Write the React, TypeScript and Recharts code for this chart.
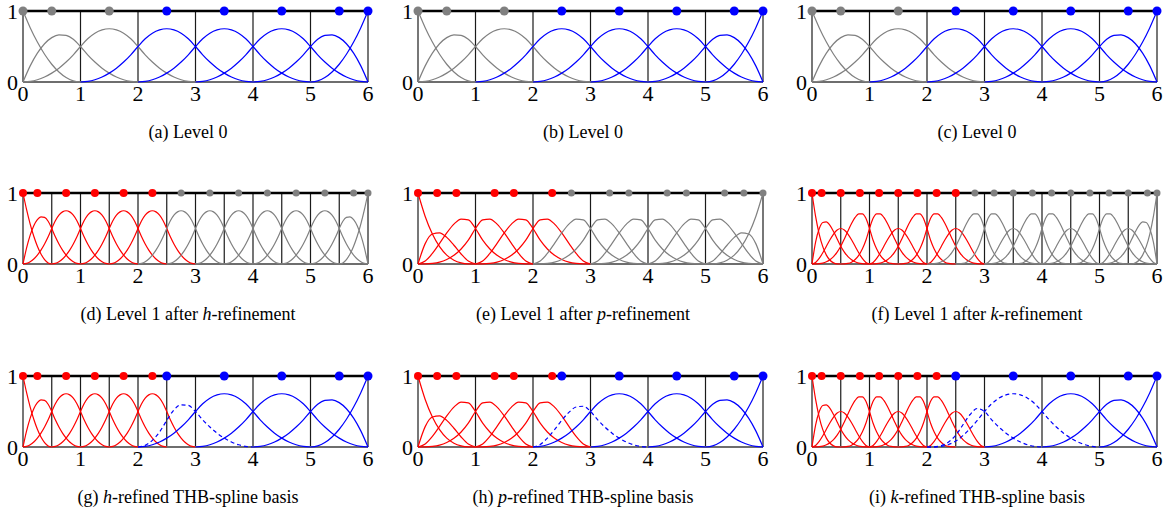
import React from "react";
import { ComposedChart, Line, Scatter, XAxis, YAxis, ReferenceLine } from "recharts";

// basis function shapes, sampled every 0.125 of a knot span
const QUAD_END = [1, 0.7656, 0.5625, 0.3906, 0.25, 0.1406, 0.0625, 0.0156, 0];
const QUAD_SIDE = [0, 0.227, 0.406, 0.539, 0.625, 0.664, 0.656, 0.602, 0.5, 0.383, 0.281, 0.195, 0.125, 0.07, 0.031, 0.008, 0];
const QUAD_MID = [0, 0.008, 0.031, 0.07, 0.125, 0.195, 0.281, 0.383, 0.5, 0.609, 0.688, 0.734, 0.75, 0.734, 0.688, 0.609, 0.5, 0.383, 0.281, 0.195, 0.125, 0.07, 0.031, 0.008, 0];
const CUB_END = [1, 0.67, 0.422, 0.244, 0.125, 0.053, 0.016, 0.002, 0];
const CUB_SIDE = [0, 0.287, 0.422, 0.439, 0.375, 0.264, 0.141, 0.041, 0];
const CUB_DOUBLE = [0, 0.042, 0.148, 0.29, 0.438, 0.562, 0.633, 0.622, 0.5, 0.335, 0.211, 0.122, 0.063, 0.026, 0.008, 0.001, 0];
const K_SIDE = [0, 0.308, 0.496, 0.585, 0.594, 0.544, 0.457, 0.352, 0.25, 0.168, 0.105, 0.061, 0.031, 0.013, 0.004, 0.0005, 0];
const K_MID = [0, 0.021, 0.078, 0.158, 0.25, 0.342, 0.422, 0.479, 0.5, 0.479, 0.422, 0.342, 0.25, 0.158, 0.078, 0.021, 0];
const K_SKEW = [0, 0.001, 0.008, 0.026, 0.063, 0.122, 0.211, 0.335, 0.5, 0.643, 0.707, 0.706, 0.656, 0.571, 0.465, 0.353, 0.25, 0.168, 0.105, 0.061, 0.031, 0.013, 0.004, 0.0005, 0];
// truncated coarse functions (dashed)
const TRUNC_H = [0, 0.023, 0.094, 0.211, 0.375, 0.523, 0.594, 0.586, 0.5, 0.383, 0.281, 0.195, 0.125, 0.07, 0.031, 0.008, 0];
const TRUNC_P = [0, 0.035, 0.125, 0.246, 0.375, 0.488, 0.563, 0.574, 0.5, 0.383, 0.281, 0.195, 0.125, 0.07, 0.031, 0.008, 0];
const TRUNC_K3 = [0, 0.003, 0.021, 0.07, 0.167, 0.313, 0.458, 0.542, 0.5, 0.383, 0.281, 0.195, 0.125, 0.07, 0.031, 0.008, 0];
const TRUNC_K4 = [0, 0.001, 0.01, 0.035, 0.083, 0.16, 0.26, 0.376, 0.5, 0.609, 0.688, 0.734, 0.75, 0.734, 0.688, 0.609, 0.5, 0.383, 0.281, 0.195, 0.125, 0.07, 0.031, 0.008, 0];

const PROFILES: Record<string, number[]> = {
  QE: QUAD_END, QS: QUAD_SIDE, QM: QUAD_MID,
  CE: CUB_END, CS: CUB_SIDE, CD: CUB_DOUBLE,
  KS: K_SIDE, KM: K_MID, KA: K_SKEW,
  TH: TRUNC_H, TP: TRUNC_P, TK3: TRUNC_K3, TK4: TRUNC_K4,
};

// [shape, left end, mirrored]
type Piece = [string, number, number];

const L0_PASSIVE: Piece[] = [["QE", 0, 0], ["QS", 0, 0], ["QM", 0, 0]];
const L0_ACTIVE: Piece[] = [["QM", 1, 0], ["QM", 2, 0], ["QM", 3, 0], ["QS", 4, 1], ["QE", 5, 1]];
const L0_KEPT: Piece[] = [["QM", 2, 0], ["QM", 3, 0], ["QS", 4, 1], ["QE", 5, 1]];
const L0_KEPT_K: Piece[] = [["QM", 3, 0], ["QS", 4, 1], ["QE", 5, 1]];
const H_ACTIVE: Piece[] = [["QE", 0, 0], ["QS", 0, 0], ["QM", 0, 0], ["QM", 0.5, 0], ["QM", 1, 0], ["QM", 1.5, 0]];
const H_PASSIVE: Piece[] = [["QM", 2, 0], ["QM", 2.5, 0], ["QM", 3, 0], ["QM", 3.5, 0], ["QM", 4, 0], ["QM", 4.5, 0], ["QS", 5, 1], ["QE", 5.5, 1]];
const P_ACTIVE: Piece[] = [["CE", 0, 0], ["CS", 0, 0], ["CD", 0, 0], ["CD", 0, 1], ["CD", 1, 0], ["CD", 1, 1]];
const P_PASSIVE: Piece[] = [["CD", 2, 0], ["CD", 2, 1], ["CD", 3, 0], ["CD", 3, 1], ["CD", 4, 0], ["CD", 4, 1], ["CS", 5, 1], ["CE", 5, 1]];
const K_ACTIVE: Piece[] = [["CE", 0, 0], ["KS", 0, 0], ["KM", 0, 0], ["KA", 0, 1], ["KA", 0.5, 0], ["KM", 1, 0], ["KA", 1, 1], ["KA", 1.5, 0], ["KM", 2, 0]];
const K_PASSIVE: Piece[] = [["KA", 2, 1], ["KA", 2.5, 0], ["KM", 3, 0], ["KA", 3, 1], ["KA", 3.5, 0], ["KM", 4, 0], ["KA", 4, 1], ["KA", 4.5, 0], ["KM", 5, 0], ["KS", 5, 1], ["CE", 5.5, 1]];
const H_TRUNC: Piece[] = [["TH", 2, 0]];
const P_TRUNC: Piece[] = [["TP", 2, 0]];
const K_TRUNC: Piece[] = [["TK3", 2, 0], ["TK4", 2, 0]];

// vertical knot lines
const KNOTS_0 = [0, 1, 2, 3, 4, 5, 6];
const KNOTS_1 = [0, 0.5, 1, 1.5, 2, 2.5, 3, 3.5, 4, 4.5, 5, 5.5, 6];
const KNOTS_THB = [0, 0.5, 1, 1.5, 2, 2.5, 3, 4, 5, 6];

// Greville points on the top line
const G0_PASSIVE = [0, 0.5, 1.5];
const G0_ACTIVE = [2.5, 3.5, 4.5, 5.5, 6];
const GH_ACTIVE = [0, 0.25, 0.75, 1.25, 1.75, 2.25];
const GH_PASSIVE = [2.75, 3.25, 3.75, 4.25, 4.75, 5.25, 5.75, 6];
const GP_ACTIVE = [0, 0.333, 0.667, 1.333, 1.667, 2.333];
const GP_PASSIVE = [2.667, 3.333, 3.667, 4.333, 4.667, 5.333, 5.667, 6];
const GK_ACTIVE = [0, 0.167, 0.5, 0.833, 1.167, 1.5, 1.833, 2.167, 2.5];
const GK_PASSIVE = [2.833, 3.167, 3.5, 3.833, 4.167, 4.5, 4.833, 5.167, 5.5, 5.833, 6];

const X_TICKS = [0, 1, 2, 3, 4, 5, 6];
const Y_TICKS = [0, 1];

const CAPTIONS: [string, string, string][] = [
  ["(a) Level 0", "", ""],
  ["(b) Level 0", "", ""],
  ["(c) Level 0", "", ""],
  ["(d) Level 1 after ", "h", "-refinement"],
  ["(e) Level 1 after ", "p", "-refinement"],
  ["(f) Level 1 after ", "k", "-refinement"],
  ["(g) ", "h", "-refined THB-spline basis"],
  ["(h) ", "p", "-refined THB-spline basis"],
  ["(i) ", "k", "-refined THB-spline basis"],
];

type Role = "gray" | "grayS" | "red" | "blue" | "dash";
type Group = { pieces: Piece[]; scale: number; role: Role };
type DotSet = { xs: number[]; role: Role };
type PanelDef = { groups: Group[]; knots: number[]; dots: DotSet[] };

const level0: PanelDef = {
  groups: [
    { pieces: L0_PASSIVE, scale: 1, role: "gray" },
    { pieces: L0_ACTIVE, scale: 1, role: "blue" },
  ],
  knots: KNOTS_0,
  dots: [{ xs: G0_PASSIVE, role: "gray" }, { xs: G0_ACTIVE, role: "blue" }],
};

const PANELS: PanelDef[] = [
  level0,
  level0,
  level0,
  {
    groups: [
      { pieces: H_ACTIVE, scale: 0.5, role: "red" },
      { pieces: H_PASSIVE, scale: 0.5, role: "gray" },
    ],
    knots: KNOTS_1,
    dots: [{ xs: GH_ACTIVE, role: "red" }, { xs: GH_PASSIVE, role: "grayS" }],
  },
  {
    groups: [
      { pieces: P_ACTIVE, scale: 1, role: "red" },
      { pieces: P_PASSIVE, scale: 1, role: "gray" },
    ],
    knots: KNOTS_0,
    dots: [{ xs: GP_ACTIVE, role: "red" }, { xs: GP_PASSIVE, role: "grayS" }],
  },
  {
    groups: [
      { pieces: K_ACTIVE, scale: 0.5, role: "red" },
      { pieces: K_PASSIVE, scale: 0.5, role: "gray" },
    ],
    knots: KNOTS_1,
    dots: [{ xs: GK_ACTIVE, role: "red" }, { xs: GK_PASSIVE, role: "grayS" }],
  },
  {
    groups: [
      { pieces: H_ACTIVE, scale: 0.5, role: "red" },
      { pieces: H_TRUNC, scale: 1, role: "dash" },
      { pieces: L0_KEPT, scale: 1, role: "blue" },
    ],
    knots: KNOTS_THB,
    dots: [{ xs: GH_ACTIVE, role: "red" }, { xs: G0_ACTIVE, role: "blue" }],
  },
  {
    groups: [
      { pieces: P_ACTIVE, scale: 1, role: "red" },
      { pieces: P_TRUNC, scale: 1, role: "dash" },
      { pieces: L0_KEPT, scale: 1, role: "blue" },
    ],
    knots: KNOTS_0,
    dots: [{ xs: GP_ACTIVE, role: "red" }, { xs: G0_ACTIVE, role: "blue" }],
  },
  {
    groups: [
      { pieces: K_ACTIVE, scale: 0.5, role: "red" },
      { pieces: K_TRUNC, scale: 1, role: "dash" },
      { pieces: L0_KEPT_K, scale: 1, role: "blue" },
    ],
    knots: KNOTS_THB,
    dots: [{ xs: GK_ACTIVE, role: "red" }, { xs: G0_ACTIVE, role: "blue" }],
  },
];

const COLORS: Record<Role, string> = {
  gray: "#808080",
  grayS: "#808080",
  red: "#ff0000",
  blue: "#0000ff",
  dash: "#0000ff",
};
const DOT_R: Record<Role, number> = { gray: 4.5, grayS: 3.5, red: 4, blue: 4.5, dash: 4.5 };

const STEP = 0.125;
const toPoints = (p: Piece, scale: number) => {
  const ys = PROFILES[p[0]];
  const vals = p[2] ? [...ys].reverse() : ys;
  return vals.map((y, i) => ({ x: p[1] + i * STEP * scale, y }));
};

const COL_X = [0, 395, 789];
const ROW_Y = [0, 182, 365];
const TICK_FONT = { fontFamily: "Liberation Serif", fontSize: 22, fill: "#000" };

const Panel = ({ def, idx }: { def: PanelDef; idx: number }) => {
  const left = COL_X[idx % 3];
  const top = ROW_Y[Math.floor(idx / 3)];
  const cap = CAPTIONS[idx];
  return (
    <>
      <div style={{ position: "absolute", left, top }}>
        <ComposedChart width={380} height={110} margin={{ top: 11, right: 12, bottom: 0, left: 0 }}>
          <XAxis
            type="number"
            dataKey="x"
            domain={[0, 6]}
            ticks={X_TICKS}
            interval={0}
            tickLine={false}
            axisLine={false}
            tickSize={2}
            tickMargin={1}
            height={28}
            tick={TICK_FONT}
          />
          <YAxis
            type="number"
            dataKey="y"
            domain={[0, 1]}
            ticks={Y_TICKS}
            interval={0}
            tickLine={false}
            axisLine={false}
            width={23}
            tickSize={3}
            tickMargin={2}
            tick={TICK_FONT}
          />
          {def.knots.map((k) => (
            <ReferenceLine
              key={`k${k}`}
              x={k}
              stroke={k === 0 || k === 6 ? "#777" : "#1a1a1a"}
              strokeWidth={k === 0 || k === 6 ? 2 : 1.2}
            />
          ))}
          <ReferenceLine y={0} stroke="#6e6e6e" strokeWidth={2} />
          {def.groups.flatMap((g, gi) =>
            g.pieces.map((p, pi) => (
              <Line
                key={`c${gi}-${pi}`}
                data={toPoints(p, g.scale)}
                dataKey="y"
                type="monotone"
                stroke={COLORS[g.role]}
                strokeWidth={1.2}
                strokeDasharray={g.role === "dash" ? "4 3" : undefined}
                dot={false}
                activeDot={false}
                isAnimationActive={false}
              />
            ))
          )}
          <ReferenceLine y={1} stroke="#000" strokeWidth={2.5} />
          {def.dots.map((d, di) => (
            <Scatter
              key={`d${di}`}
              data={d.xs.map((x) => ({ x, y: 1 }))}
              dataKey="y"
              isAnimationActive={false}
              shape={(sp: any) => <circle cx={sp.cx} cy={sp.cy} r={DOT_R[d.role]} fill={COLORS[d.role]} />}
            />
          ))}
        </ComposedChart>
      </div>
      <div
        style={{
          position: "absolute",
          left,
          top: top + 123,
          width: 376,
          textAlign: "center",
          fontFamily: "Liberation Serif",
          fontSize: 18,
          lineHeight: "18px",
          color: "#000",
          whiteSpace: "nowrap",
        }}
      >
        {cap[0]}
        {cap[1] && <i>{cap[1]}</i>}
        {cap[2]}
      </div>
    </>
  );
};

export default function App() {
  return (
    <div style={{ position: "absolute", left: 0, top: 0, width: 1173, height: 514, background: "#fff" }}>
      {PANELS.map((def, i) => (
        <Panel key={i} def={def} idx={i} />
      ))}
    </div>
  );
}
